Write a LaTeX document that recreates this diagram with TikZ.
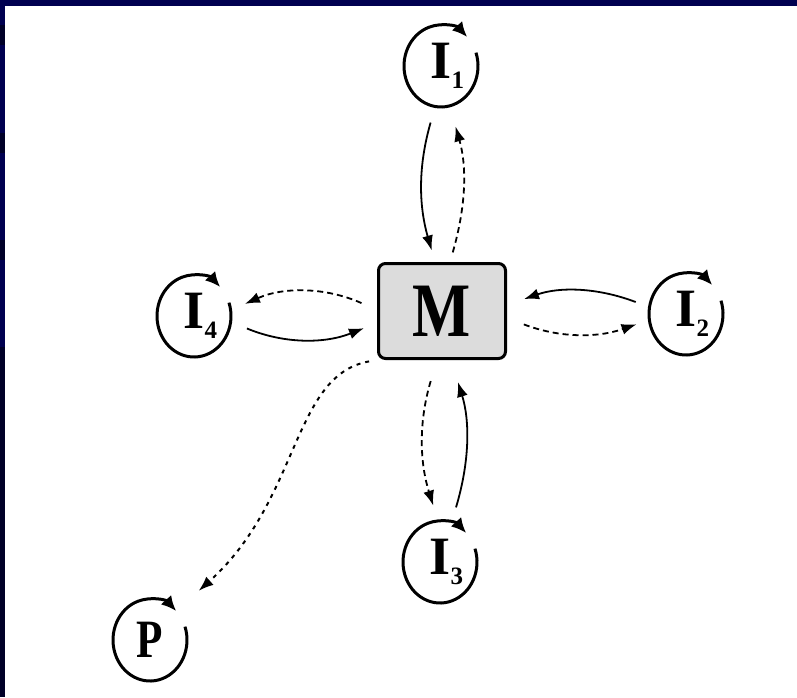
\documentclass[tikz,border=0pt]{standalone}
\usepackage{fontspec}
\setmainfont{Liberation Serif}
\usetikzlibrary{shapes.geometric,arrows.meta}
\definecolor{navy}{RGB}{0,0,80}
\definecolor{darknavy}{RGB}{0,0,40}
\definecolor{boxgray}{RGB}{220,220,220}
\newcommand{\isub}[1]{I\rlap{\kern0pt\raisebox{-10pt}{\fontsize{25}{25}\selectfont #1}}}
\begin{document}
\begin{tikzpicture}[x=1pt,y=-1pt,
  ringnode/.style={ellipse, minimum width=74pt, minimum height=82pt, inner sep=0pt,
    font=\bfseries\fontsize{54}{54}\selectfont},
  ring/.style={line width=3pt, -{Latex[length=15pt,width=14pt]}},
  mbox/.style={draw, line width=3pt, rounded corners=7pt, fill=boxgray,
    minimum width=127pt, minimum height=95pt, inner sep=0pt,
    font=\bfseries\fontsize{77}{77}\selectfont},
  conn/.style={line width=1.8pt, -{Latex[length=15pt,width=11pt]}},
  solidconn/.style={conn},
  dashconn/.style={conn, dash pattern=on 6pt off 4pt},
  dotconn/.style={conn, line width=2pt, dash pattern=on 4pt off 5pt},
]
\useasboundingbox (0,0) rectangle (797,697);
\fill[navy] (0,0) rectangle (797,697);
\fill[white] (5,6) rectangle (797,697);
\fill[darknavy] (0,25) rectangle (5,45);
\fill[darknavy] (0,133) rectangle (5,153);
\fill[darknavy] (0,240) rectangle (5,260);
\fill[darknavy] (0,347) rectangle (5,697);

% nodes
\node[mbox] (M) at (442,311) {\scalebox{0.8}[1]{M}};
\node[ringnode] (I1) at (441,66) {\isub{1}};
\node[ringnode] (I2) at (686,314) {\isub{2}};
\node[ringnode] (I3) at (440,562) {\isub{3}};
\node[ringnode] (I4) at (194,316) {\isub{4}};
\node[ringnode] (P) at (150,640) {\scalebox{0.8}[1]{P}};

% self rings
\foreach \n in {I1,I2,I3,I4,P}{
  \draw[ring] (\n.center) ++(19:37pt and 41pt)
    arc[start angle=19, end angle=-315, x radius=37pt, y radius=41pt];
}

% I1
\draw[solidconn, shorten <=16pt, shorten >=12pt] ([xshift=-6pt]I1.south) to[bend right=16] ([xshift=-7pt]M.north);
\draw[dashconn, shorten <=10pt, shorten >=20pt] ([xshift=8pt]M.north) to[bend right=16] ([xshift=9pt]I1.south);
% I3
\draw[dashconn, shorten <=22pt, shorten >=16pt] ([xshift=-5pt]M.south) to[bend right=17] ([xshift=-2pt]I3.north);
\draw[solidconn, shorten <=14pt, shorten >=23pt] ([xshift=12pt]I3.north) to[bend right=17] ([xshift=9pt]M.south);
% I4
\draw[dashconn, shorten <=17pt, shorten >=15pt] ([yshift=1pt]M.west) to[bend right=24] ([yshift=6pt]I4.east);
\draw[solidconn, shorten <=17pt, shorten >=14pt] ([yshift=-6pt]I4.east) to[bend right=22] ([yshift=-12pt]M.west);
% I2
\draw[solidconn, shorten <=14pt, shorten >=18pt] ([yshift=7pt]I2.west) to[bend right=20] ([yshift=6pt]M.east);
\draw[dashconn, shorten <=18pt, shorten >=13pt] ([yshift=-7pt]M.east) to[bend right=20] ([yshift=-6pt]I2.west);
% P
\draw[dotconn, shorten <=8pt, shorten >=30pt] (M.south west) .. controls +(-85,15) and +(124,-111) .. (P.north east);
\end{tikzpicture}
\end{document}
